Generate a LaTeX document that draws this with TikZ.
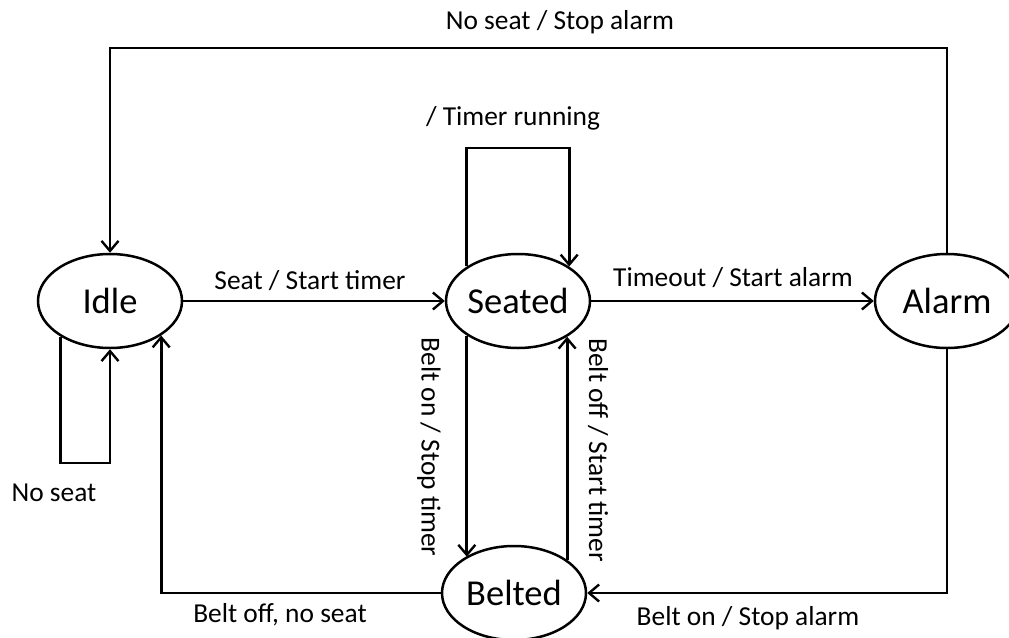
\documentclass[tikz,border=0pt]{standalone}
\usepackage{fontspec}
\setmainfont{Carlito}
\usetikzlibrary{arrows.meta,shapes.geometric}
\begin{document}
\begin{tikzpicture}[x=1pt,y=-1pt,
  state/.style={ellipse,draw,line width=2.5pt,fill=white,minimum width=144pt,minimum height=94pt,inner sep=0pt,font=\fontsize{36.5}{40}\selectfont},
  arr/.style={line width=2.8pt,-{Straight Barb[length=10pt,width=17pt,line width=2.4pt]}},
  lbl/.style={font=\fontsize{27.4}{30}\selectfont,inner sep=0pt}]
\useasboundingbox (0,0) rectangle (1009,637);
\node[state] (Idle) at (110,301) {Idle};
\node[state] (Seated) at (518,301) {Seated};
\node[state] (Alarm) at (947,301) {Alarm};
\node[state] (Belted) at (514,593) {Belted};
\coordinate (topy) at (0,48);
\coordinate (loopy) at (0,463);
\coordinate (stopy) at (0,148);
% Alarm -> Idle (top)
\draw[arr] (Alarm.north) -- (Alarm.north |- topy) -| (Idle.north);
% Idle self-loop
\draw[arr] (Idle.-144) -- (Idle.-144 |- loopy) -| (Idle.south);
% Belted -> Idle
\draw[arr] (Belted.west) -| (Idle.-34);
% Idle -> Seated
\draw[arr] (Idle.east) -- (Seated.west);
% Seated -> Alarm
\draw[arr] (Seated.east) -- (Alarm.west);
% Seated self-loop
\draw[arr] (Seated.146) -- (Seated.146 |- stopy) -| (Seated.34);
% Seated -> Belted
\draw[arr] (Seated.-146) -- (Seated.-146 |- Belted.143);
% Belted -> Seated
\draw[arr] (Belted.32) -- (Belted.32 |- Seated.-36);
% Alarm -> Belted
\draw[arr] (Alarm.south) |- (Belted.east);
% labels
\node[lbl] (l1) at (560,22) {No seat / Stop alarm};
\node[lbl] (l2) at (513,118) {/ Timer running};
\node[lbl] (l3) at (310,281) {Seat / Start timer};
\node[lbl] (l4) at (733,278) {Timeout / Start alarm};
\node[lbl] (l5) at (54,493) {No seat};
\node[lbl] (l6) at (280,615) {Belt off, no seat};
\node[lbl] (l7) at (748,618) {Belt on / Stop alarm};
\node[lbl,rotate=-90] (l8) at (429,447) {Belt on / Stop timer};
\node[lbl,rotate=-90] (l9) at (598,450) {Belt off / Start timer};
\end{tikzpicture}
\end{document}
